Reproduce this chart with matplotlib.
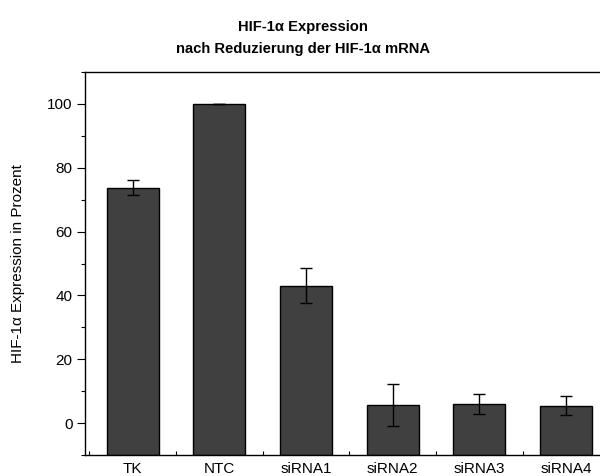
import numpy as np
import matplotlib.pyplot as plt
from matplotlib.ticker import MultipleLocator

plt.rcParams['font.family'] = ['Liberation Sans', 'DejaVu Sans']

# Werte aus der Messung (Mittelwert und Fehler in Prozent)
gruppen = ['TK', 'NTC', 'siRNA1', 'siRNA2', 'siRNA3', 'siRNA4']
expression = [73.8, 100.0, 43.1, 5.7, 6.0, 5.4]
fehler = [2.3, 0.0, 5.4, 6.7, 3.1, 3.0]

fig = plt.figure(figsize=(6.0, 4.76), dpi=100)
ax = fig.add_axes([85 / 600, 1 - 455 / 476, 515 / 600, 383 / 476])

x = np.arange(1, len(gruppen) + 1)
# Balken beginnen an der unteren Achsenkante (-10)
ax.bar(x, np.array(expression) + 10, width=0.6, bottom=-10, color='#404040',
       edgecolor='black', linewidth=1.0, zorder=2)
ax.errorbar(x, expression, yerr=fehler, fmt='none', ecolor='black', elinewidth=1.0,
            capsize=4, capthick=1.0, zorder=3)

ax.set_xlim(0.452, 6.39)
ax.set_ylim(-10, 110)

ax.set_xticks(x)
ax.set_xticklabels(gruppen, fontsize=11)
ax.xaxis.set_minor_locator(MultipleLocator(1, offset=0.5))
ax.tick_params(axis='x', which='both', direction='in', length=3, width=0.8, pad=5)

ax.yaxis.set_major_locator(MultipleLocator(20))
ax.yaxis.set_minor_locator(MultipleLocator(10))
ax.tick_params(axis='y', which='major', direction='out', length=6, width=0.8,
               labelsize=11, pad=3)
ax.tick_params(axis='y', which='minor', direction='out', length=3, width=0.8)

ax.spines['right'].set_visible(False)
for s in ['left', 'top', 'bottom']:
    ax.spines[s].set_linewidth(1.0)

fig.text(0.505, 1 - 27 / 476, 'HIF-1α Expression', ha='center', va='center',
         fontsize=10.6, fontweight='bold')
fig.text(0.505, 1 - 49 / 476, 'nach Reduzierung der HIF-1α mRNA', ha='center', va='center',
         fontsize=10.6, fontweight='bold')
fig.text(18 / 600, 1 - 264 / 476, 'HIF-1α Expression in Prozent', rotation=90,
         ha='center', va='center', fontsize=11)

fig.savefig('out.png', dpi=100)
